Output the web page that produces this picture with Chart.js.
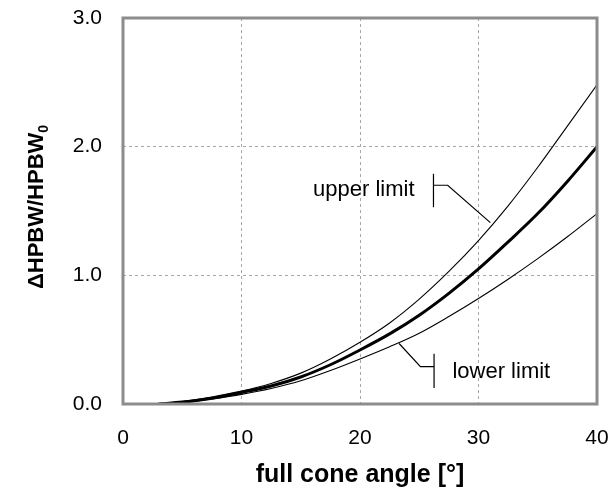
<!DOCTYPE html>
<html>
<head>
<meta charset="utf-8">
<script src="https://cdn.jsdelivr.net/npm/chart.js@4.4.1/dist/chart.umd.min.js"></script>
<style>
  body { margin: 0; background: #fff; }
  #wrap { width: 616px; height: 490px; }
</style>
</head>
<body>
<div id="wrap"><canvas id="coneChart"></canvas></div>
<script>
// full cone angle [deg]
let angles = [3, 5, 7.5, 10, 12.5, 15, 17.5, 20, 22.5, 25, 27.5, 30, 32.5, 35, 37.5, 40];
let meanVals = [0, 0.015, 0.045, 0.09, 0.14, 0.21, 0.305, 0.42, 0.545, 0.69, 0.86, 1.05, 1.26, 1.48, 1.73, 2.0];
let upperVals = [0, 0.02, 0.055, 0.1, 0.16, 0.24, 0.35, 0.48, 0.63, 0.815, 1.03, 1.27, 1.54, 1.84, 2.16, 2.48];
let lowerVals = [0, 0.01, 0.04, 0.075, 0.12, 0.18, 0.26, 0.35, 0.445, 0.55, 0.68, 0.82, 0.97, 1.13, 1.3, 1.48];
let xTicks = [0, 10, 20, 30, 40];
let yTicks = [0, 1, 2, 3];

const toPts = (vals) => angles.map((a, i) => ({ x: a, y: vals[i] }));

// frame, y title with subscript, and the limit labels
const extras = {
  id: 'extras',
  afterDraw(chart) {
    const { ctx, chartArea: a, scales: { x, y } } = chart;
    ctx.save();
    ctx.strokeStyle = '#8c8c8c';
    ctx.lineWidth = 3;
    ctx.strokeRect(a.left, a.top, a.right - a.left, a.bottom - a.top);

    // y axis title
    ctx.translate(43, 207);
    ctx.rotate(-Math.PI / 2);
    ctx.fillStyle = '#000';
    ctx.font = 'bold 22px "Liberation Sans", Arial, sans-serif';
    const main = '\u0394HPBW/HPBW';
    const w1 = ctx.measureText(main).width;
    ctx.font = 'bold 14px "Liberation Sans", Arial, sans-serif';
    const w2 = ctx.measureText('0').width;
    const start = -(w1 + w2) / 2;
    ctx.textBaseline = 'alphabetic';
    ctx.font = 'bold 22px "Liberation Sans", Arial, sans-serif';
    ctx.fillText(main, start, 0);
    ctx.font = 'bold 14px "Liberation Sans", Arial, sans-serif';
    ctx.fillText('0', start + w1, 5);
    ctx.restore();

    // leader lines
    const px = (v) => x.getPixelForValue(v);
    const py = (v) => y.getPixelForValue(v);
    ctx.save();
    ctx.strokeStyle = '#000';
    ctx.lineWidth = 1.2;
    ctx.beginPath();
    ctx.moveTo(px(26.2), py(1.79)); ctx.lineTo(px(26.2), py(1.53));
    ctx.moveTo(px(26.2), py(1.70)); ctx.lineTo(px(27.4), py(1.70));
    ctx.lineTo(px(31.0), py(1.41));
    ctx.moveTo(px(26.25), py(0.39)); ctx.lineTo(px(26.25), py(0.125));
    ctx.moveTo(px(26.25), py(0.29)); ctx.lineTo(px(25.1), py(0.29));
    ctx.lineTo(px(23.3), py(0.47));
    ctx.stroke();

    ctx.fillStyle = '#000';
    ctx.font = '22px "Liberation Sans", Arial, sans-serif';
    ctx.textBaseline = 'middle';
    ctx.textAlign = 'right';
    ctx.fillText('upper limit', px(24.6), py(1.66));
    ctx.textAlign = 'left';
    ctx.fillText('lower limit', px(27.8), py(0.25));
    ctx.restore();
  }
};

const lineSet = (label, vals, width) => ({
  label: label,
  data: toPts(vals),
  borderColor: '#000',
  borderWidth: width,
  pointRadius: 0,
  cubicInterpolationMode: 'monotone',
  fill: false
});

let myChart = new Chart(document.getElementById('coneChart').getContext('2d'), {
  type: 'line',
  data: {
    datasets: [
      lineSet('upper limit', upperVals, 1.1),
      lineSet('mean', meanVals, 3),
      lineSet('lower limit', lowerVals, 1.1)
    ]
  },
  options: {
    responsive: true,
    maintainAspectRatio: false,
    animation: false,
    layout: { padding: { top: 18, right: 19, left: 0, bottom: 0 } },
    plugins: {
      legend: { display: false },
      tooltip: { enabled: false }
    },
    scales: {
      x: {
        type: 'linear',
        min: 0,
        max: 40,
        afterBuildTicks: (s) => { s.ticks = xTicks.map(v => ({ value: v })); },
        afterFit: (s) => {
          s.height = 86;
          s.paddingLeft = 0;
          s.paddingRight = 0;
        },
        grid: {
          drawTicks: false,
          color: (c) => (c.tick && (c.tick.value === 0 || c.tick.value === 40)) ? 'rgba(0,0,0,0)' : '#a8a8a8',
          lineWidth: 1
        },
        border: { display: false, dash: [3, 3] },
        ticks: {
          padding: 22,
          color: '#000',
          font: { family: '"Liberation Sans", Arial, sans-serif', size: 21 },
          maxRotation: 0
        },
        title: {
          display: true,
          text: 'full cone angle [\u00b0]',
          color: '#000',
          font: { family: '"Liberation Sans", Arial, sans-serif', size: 25, weight: 'bold' },
          padding: { top: 0, bottom: 0 }
        }
      },
      y: {
        min: 0,
        max: 3,
        afterBuildTicks: (s) => { s.ticks = yTicks.map(v => ({ value: v })); },
        afterFit: (s) => {
          s.width = 123;
          s.paddingTop = 0;
          s.paddingBottom = 0;
        },
        grid: {
          drawTicks: false,
          color: (c) => (c.tick && (c.tick.value === 0 || c.tick.value === 3)) ? 'rgba(0,0,0,0)' : '#a8a8a8',
          lineWidth: 1
        },
        border: { display: false, dash: [3, 3] },
        ticks: {
          padding: 21,
          color: '#000',
          font: { family: '"Liberation Sans", Arial, sans-serif', size: 21 },
          callback: (v) => v.toFixed(1)
        }
      }
    }
  },
  plugins: [extras]
});
</script>
</body>
</html>
